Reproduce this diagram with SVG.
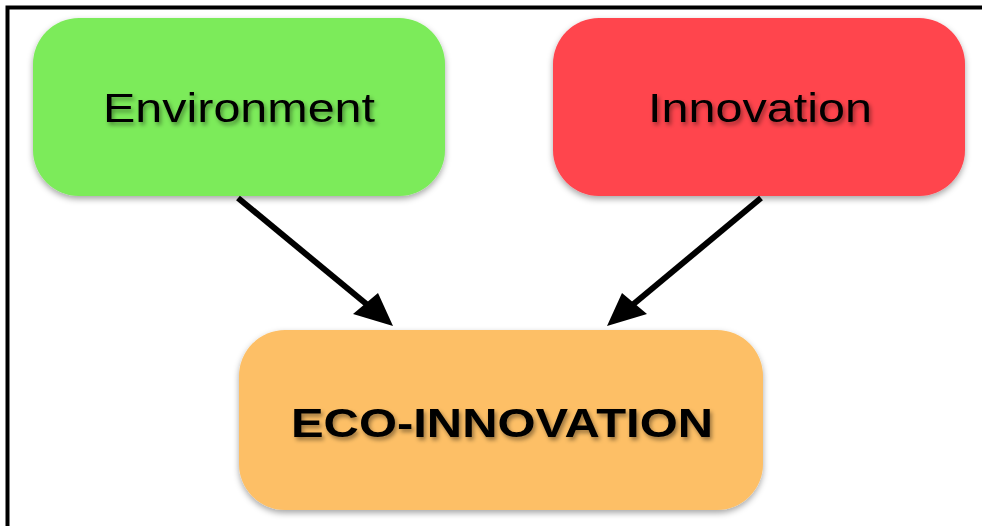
<svg xmlns="http://www.w3.org/2000/svg" width="982" height="526" viewBox="0 0 982 526">
  <defs>
    <filter id="boxShadow" x="-10%" y="-10%" width="120%" height="130%">
      <feDropShadow dx="0" dy="3" stdDeviation="3" flood-color="#000" flood-opacity="0.35"/>
    </filter>
    <filter id="textShadow" x="-5%" y="-20%" width="110%" height="150%">
      <feDropShadow dx="2" dy="3" stdDeviation="2" flood-color="#000" flood-opacity="0.4"/>
    </filter>
  </defs>
  <style>
    .box { filter: url(#boxShadow); }
    .label { font-family: "Liberation Sans", Arial, sans-serif; fill: #000; text-anchor: middle; filter: url(#textShadow); }
    .conn line { stroke: #000; stroke-width: 6; }
    .conn polygon { fill: #000; }
  </style>

  <rect width="982" height="526" fill="#fff"/>
  <!-- frame (top and left edges) -->
  <path d="M7.5 526 V7.5 H982" fill="none" stroke="#000" stroke-width="4"/>

  <g id="environment">
    <rect class="box" x="33" y="18" width="412" height="178" rx="46" fill="#7CEB5A"/>
    <text class="label" x="239" y="122" font-size="41" textLength="272" lengthAdjust="spacingAndGlyphs">Environment</text>
  </g>

  <g id="innovation">
    <rect class="box" x="553" y="18" width="412" height="178" rx="46" fill="#FF444D"/>
    <text class="label" x="760" y="122" font-size="41" textLength="224" lengthAdjust="spacingAndGlyphs">Innovation</text>
  </g>

  <g id="eco-innovation">
    <rect class="box" x="239" y="330" width="524" height="180" rx="46" fill="#FDBF66"/>
    <text class="label" x="502" y="437" font-size="40" font-weight="bold" textLength="422" lengthAdjust="spacingAndGlyphs">ECO-INNOVATION</text>
  </g>

  <g id="connectors" class="conn">
    <line x1="238" y1="198" x2="370" y2="307"/>
    <polygon points="393,326 353,314 378,293"/>
    <line x1="761" y1="198" x2="630" y2="307"/>
    <polygon points="607,326 647,314 622,293"/>
  </g>
</svg>
